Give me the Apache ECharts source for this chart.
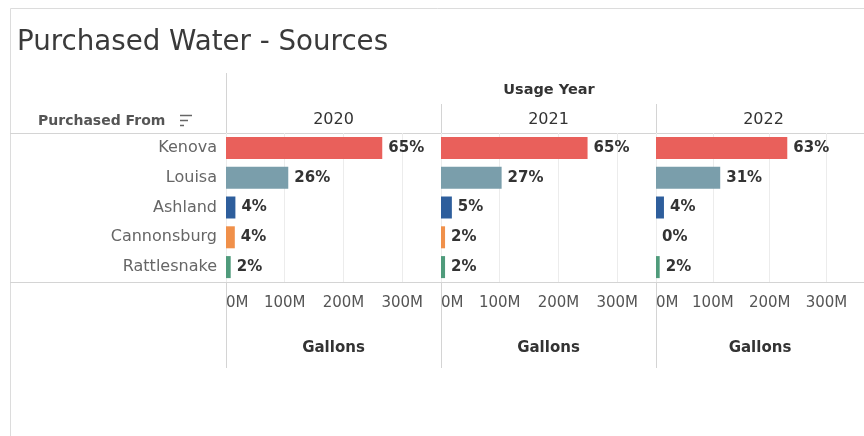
<!DOCTYPE html>
<html><head><meta charset="utf-8">
<script src="https://cdn.jsdelivr.net/npm/echarts@6/dist/echarts.min.js"></script>
<style>html,body{margin:0;padding:0;background:#fff}#c{width:864px;height:436px}</style>
</head><body><div id="c"></div>
<script>
// ---- data (millions of gallons) ----
const categories = ['Kenova', 'Louisa', 'Ashland', 'Cannonsburg', 'Rattlesnake'];
const years = ['2020', '2021', '2022'];
const gallons2020 = [266, 106, 16, 15, 8];
const gallons2021 = [249.5, 103.2, 18.5, 6.9, 6.9];
const gallons2022 = [231, 113, 14, 0, 6.5];
const axisTicks = [0, 100, 200, 300];
// ---- styles ----
const colors = ['#E9605B', '#7A9EAB', '#2E5E9C', '#F0904A', '#4F9B7B'];
const yearData = [gallons2020, gallons2021, gallons2022];
const FONT = 'DejaVu Sans';
const PANEL_LEFT = 226, PANEL_W = 215, TOP = 133, H = 149;

const chart = echarts.init(document.getElementById('c'));
const grids = [], xAxes = [], yAxes = [], series = [];
yearData.forEach((vals, i) => {
  const total = vals.reduce((a, b) => a + b, 0);
  grids.push({left: PANEL_LEFT + i * PANEL_W, width: PANEL_W, top: TOP, height: H});
  xAxes.push({
    type: 'value', gridIndex: i, min: 0, max: 366, interval: 100,
    axisLine: {show: false}, axisTick: {show: false},
    splitLine: {show: true, lineStyle: {color: '#ececec', width: 1}},
    axisLabel: {
      margin: 14, fontSize: 15, color: '#555', fontFamily: FONT,
      showMaxLabel: false, alignMinLabel: 'left',
      formatter: v => axisTicks.includes(v) ? v + 'M' : ''
    },
    name: 'Gallons', nameLocation: 'middle', nameGap: 59,
    nameTextStyle: {fontWeight: 'bold', fontSize: 15, color: '#333', fontFamily: FONT}
  });
  yAxes.push({
    type: 'category', gridIndex: i, data: categories, inverse: true,
    axisLine: {show: false}, axisTick: {show: false}, splitLine: {show: false},
    axisLabel: {show: i === 0, margin: 9, fontSize: 16, color: '#666', fontFamily: FONT}
  });
  series.push({
    type: 'bar', xAxisIndex: i, yAxisIndex: i, barWidth: 22,
    data: vals.map((v, j) => ({value: v, itemStyle: {color: colors[j]}})),
    label: {
      show: true, position: 'right', distance: 6, fontSize: 15, fontWeight: 'bold',
      color: '#333', fontFamily: FONT,
      formatter: p => Math.round(p.value / total * 100) + '%'
    }
  });
});

const lineStyle = {stroke: '#d4d4d4', lineWidth: 1};
const graphic = [
  {type: 'rect', shape: {x: 10.5, y: 8.5, width: 900, height: 500}, style: {fill: 'none', stroke: '#dcdcdc', lineWidth: 1}, silent: true},
  {type: 'line', shape: {x1: 10, y1: 133.5, x2: 864, y2: 133.5}, style: lineStyle},
  {type: 'line', shape: {x1: 10, y1: 282.5, x2: 864, y2: 282.5}, style: lineStyle},
  {type: 'line', shape: {x1: 226.5, y1: 73, x2: 226.5, y2: 368}, style: lineStyle},
  {type: 'line', shape: {x1: 441.5, y1: 104, x2: 441.5, y2: 368}, style: lineStyle},
  {type: 'line', shape: {x1: 656.5, y1: 104, x2: 656.5, y2: 368}, style: lineStyle},
  {type: 'text', x: 17, y: 43, style: {text: 'Purchased Water - Sources', font: '27.7px "DejaVu Sans"', fill: '#3a3a3a', align: 'left', verticalAlign: 'middle'}},
  {type: 'text', x: 549, y: 90, style: {text: 'Usage Year', font: 'bold 14.5px "DejaVu Sans"', fill: '#333', align: 'center', verticalAlign: 'middle'}},
  {type: 'text', x: 38, y: 121, style: {text: 'Purchased From', font: 'bold 14px "DejaVu Sans"', fill: '#555', align: 'left', verticalAlign: 'middle'}},
  {type: 'line', shape: {x1: 180, y1: 115.5, x2: 192, y2: 115.5}, style: {stroke: '#666', lineWidth: 1.5}},
  {type: 'line', shape: {x1: 180, y1: 120.5, x2: 188, y2: 120.5}, style: {stroke: '#666', lineWidth: 1.5}},
  {type: 'line', shape: {x1: 180, y1: 125.5, x2: 184, y2: 125.5}, style: {stroke: '#666', lineWidth: 1.5}}
];
years.forEach((y, i) => {
  graphic.push({type: 'text', x: PANEL_LEFT + i * PANEL_W + PANEL_W / 2, y: 120,
    style: {text: y, font: '16px "DejaVu Sans"', fill: '#333', align: 'center', verticalAlign: 'middle'}});
});

chart.setOption({
  animation: false,
  backgroundColor: '#fff',
  grid: grids, xAxis: xAxes, yAxis: yAxes, series: series,
  graphic: graphic
});
</script></body></html>
